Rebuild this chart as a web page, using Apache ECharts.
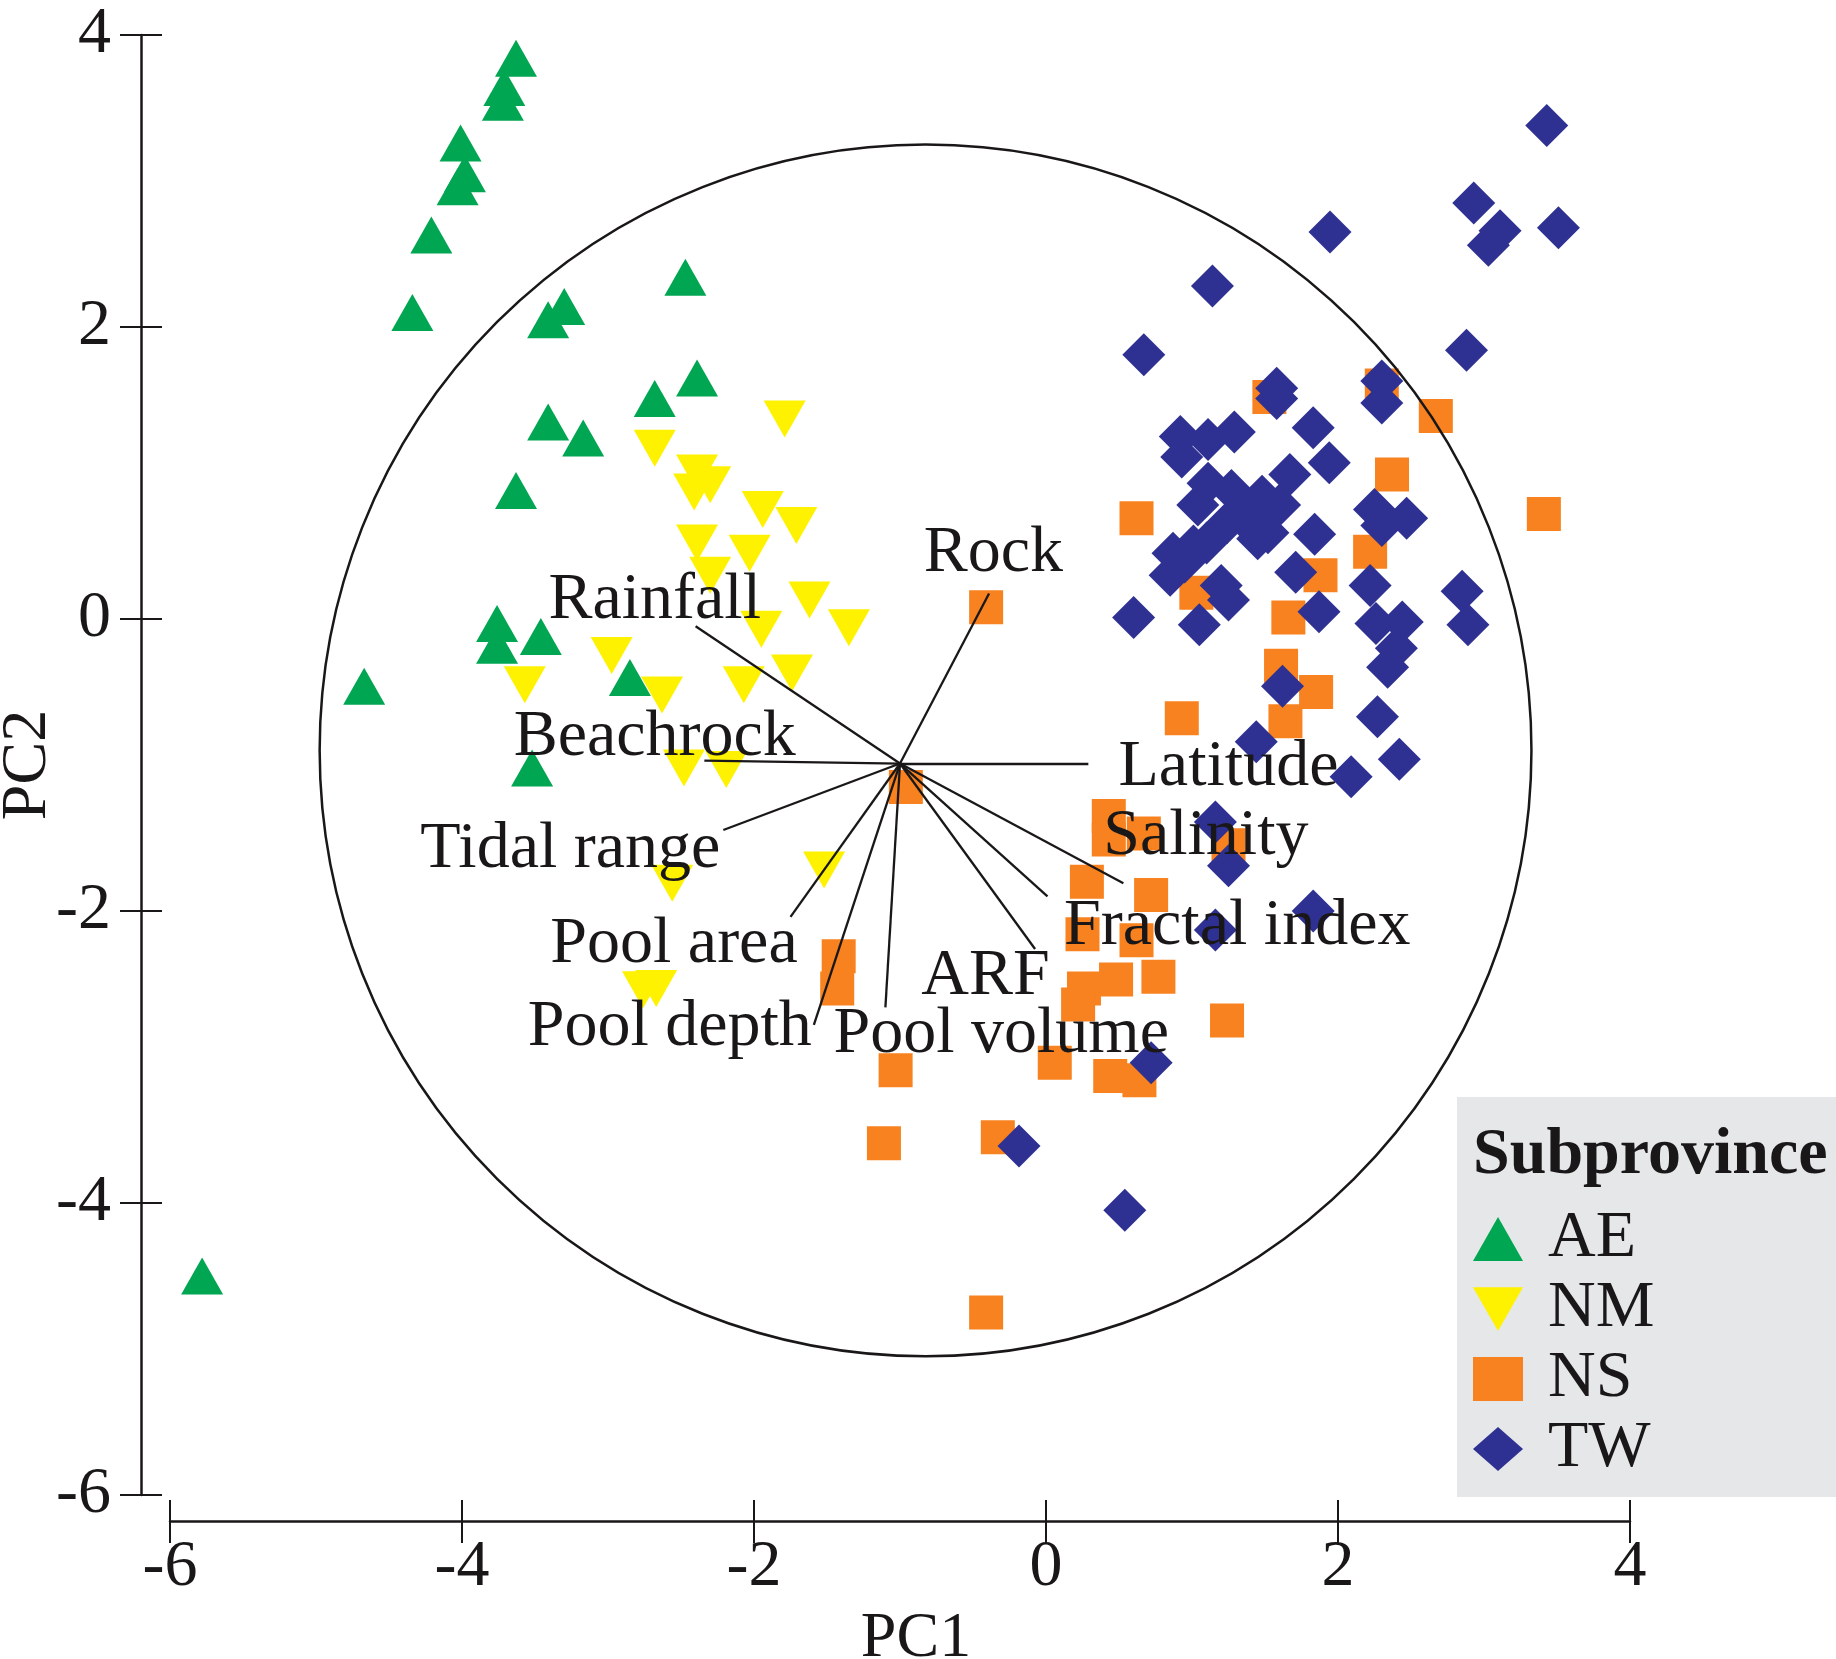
<!DOCTYPE html>
<html>
<head>
<meta charset="utf-8">
<script src="https://cdn.jsdelivr.net/npm/echarts@6/dist/echarts.min.js"></script>
<style>
html,body{margin:0;padding:0;background:#fff;}
#chart{width:1836px;height:1659px;}
</style>
</head>
<body>
<div id="chart"></div>
<script>
// ---- data (PC1, PC2) ----
const groups = ['AE', 'NM', 'NS', 'TW'];

const AE = [
  [-3.63, 3.84], [-3.71, 3.64], [-3.72, 3.54], [-4.01, 3.26], [-3.98, 3.05], [-4.03, 2.96],
  [-4.21, 2.63], [-4.34, 2.10], [-3.41, 2.05], [-3.30, 2.14], [-2.47, 2.34], [-2.39, 1.65],
  [-2.68, 1.51], [-3.41, 1.35], [-3.17, 1.24], [-3.63, 0.88], [-3.76, -0.03], [-3.76, -0.18],
  [-3.46, -0.12], [-2.85, -0.40], [-4.67, -0.46], [-3.52, -1.02], [-5.78, -4.50]
];

const NM = [
  [-1.79, 1.37], [-2.68, 1.17], [-2.39, 1.00], [-2.30, 0.92], [-2.41, 0.87], [-1.94, 0.75],
  [-1.71, 0.64], [-2.39, 0.52], [-2.03, 0.45], [-2.30, 0.30], [-1.62, 0.13], [-1.95, -0.07],
  [-1.35, -0.06], [-2.975, -0.25], [-3.57, -0.45], [-2.63, -0.52], [-1.74, -0.37], [-2.07, -0.45],
  [-2.48, -1.02], [-2.19, -1.03], [-1.52, -1.72], [-2.56, -1.81], [-2.76, -2.54], [-2.67, -2.53]
];

const NS = [
  [-0.41, 0.08], [0.62, 0.69], [1.53, 1.52], [2.30, 1.60], [2.67, 1.39], [3.41, 0.72],
  [2.37, 0.99], [2.22, 0.46], [1.88, 0.30], [1.03, 0.18], [1.66, 0.01], [1.61, -0.32],
  [1.85, -0.50], [1.64, -0.70], [0.93, -0.68], [-0.96, -1.15], [0.43, -1.35], [0.43, -1.51],
  [0.67, -1.47], [1.25, -1.55], [0.28, -1.80], [0.72, -1.89], [0.25, -2.16], [0.62, -2.20],
  [-1.42, -2.31], [-1.43, -2.53], [0.77, -2.45], [0.48, -2.47], [0.26, -2.53], [0.22, -2.64],
  [1.24, -2.75], [0.06, -3.04], [-1.03, -3.09], [0.44, -3.13], [0.64, -3.16], [-1.11, -3.59],
  [-0.33, -3.55], [-0.41, -4.75]
];

const TW = [
  [3.43, 3.38], [2.93, 2.85], [3.11, 2.66], [3.03, 2.56], [3.51, 2.68], [1.945, 2.65],
  [1.14, 2.28], [0.67, 1.81], [2.88, 1.84], [1.58, 1.58], [1.58, 1.51], [2.30, 1.63],
  [2.30, 1.48], [0.92, 1.25], [0.93, 1.11], [1.11, 1.23], [1.29, 1.28], [1.83, 1.31],
  [1.94, 1.07], [1.67, 0.99], [1.11, 0.93], [1.27, 0.88], [1.48, 0.84], [1.04, 0.78],
  [1.60, 0.78], [1.24, 0.66], [1.35, 0.69], [1.52, 0.59], [1.45, 0.55], [1.10, 0.52],
  [2.25, 0.75], [2.47, 0.69], [2.30, 0.64], [1.84, 0.58], [1.01, 0.50], [0.87, 0.45],
  [0.95, 0.39], [0.85, 0.30], [1.71, 0.32], [1.20, 0.23], [1.25, 0.13], [2.22, 0.23],
  [2.85, 0.19], [0.60, 0.01], [1.05, -0.04], [1.87, 0.05], [2.26, -0.03], [2.44, -0.02],
  [2.40, -0.20], [2.34, -0.33], [2.89, -0.04], [1.62, -0.46], [2.27, -0.67], [1.44, -0.84],
  [2.09, -1.08], [2.42, -0.96], [1.16, -1.39], [1.25, -1.69], [1.16, -2.13], [1.83, -2.00],
  [0.72, -3.04], [-0.185, -3.61], [0.54, -4.05]
];

// loading vectors
const vectorOrigin = [-1.0, -0.99];
const vectorNames = ['Rock', 'Rainfall', 'Beachrock', 'Latitude', 'Tidal range', 'Salinity',
  'Fractal index', 'ARF', 'Pool volume', 'Pool depth', 'Pool area'];
const vectorEnds = [
  [-0.39, 0.175], [-2.40, -0.05], [-2.34, -0.97], [0.29, -0.99], [-2.21, -1.445], [0.53, -1.81],
  [0.01, -1.90], [-0.075, -2.26], [-1.10, -2.66], [-1.59, -2.78], [-1.75, -2.04]
];
const vectorLabelAt = [
  [-0.36, 0.445], [-2.68, 0.125], [-2.68, -0.81], [1.25, -1.02], [-3.258, -1.58], [1.095, -1.49],
  [1.31, -2.11], [-0.415, -2.448], [-0.307, -2.848], [-2.577, -2.80], [-2.548, -2.23]
];

// correlation circle [centerX, centerY, radius]
const circle = [-0.825, -0.9, 4.15];

const xTicks = [-6, 4, 2];   // min, max, interval
const yTicks = [-6, 4, 2];

// ---- styles ----
const FONT = '"Liberation Serif", "Times New Roman", serif';
const INK = '#1a1718';
const colors = { AE: '#00a651', NM: '#fff200', NS: '#f7821f', TW: '#2e3192' };

const chart = echarts.init(document.getElementById('chart'), null, { renderer: 'canvas' });

function scatter(name, data, symbol, size, rotate) {
  return {
    name, type: 'scatter', data, symbol, symbolSize: size, symbolRotate: rotate || 0,
    itemStyle: { color: colors[name], opacity: 1 },
    emphasis: { disabled: true }, z: 2
  };
}

const axisCommon = {
  type: 'value', splitLine: { show: false }
};

const option = {
  animation: false,
  backgroundColor: '#fff',
  grid: { left: 170, right: 206, top: 35, bottom: 164, containLabel: false, outerBoundsMode: 'none' },
  title: {
    text: 'Subprovince', left: 1473, top: 1123, padding: 0,
    textStyle: { fontFamily: FONT, fontSize: 66, fontWeight: 'bold', color: INK, lineHeight: 66 }
  },
  legend: {
    data: [
      { name: 'AE' },
      { name: 'NM', icon: 'path://M0,0 L2,0 L1,1.75 Z' },
      { name: 'NS' },
      { name: 'TW' }
    ],
    orient: 'vertical', left: 1457, top: 1097,
    padding: [104, 400, 10, 16], itemGap: -6, itemWidth: 50, itemHeight: 44,
    backgroundColor: '#e6e7e8',
    textStyle: { fontFamily: FONT, fontSize: 66, color: INK, lineHeight: 66, padding: [10, 0, 0, 20] },
    selectedMode: false
  },
  xAxis: [
    Object.assign({}, axisCommon, {
      min: xTicks[0], max: xTicks[1], interval: xTicks[2], position: 'bottom', offset: 26,
      name: 'PC1', nameLocation: 'middle', nameGap: 78,
      nameTextStyle: { fontFamily: FONT, fontSize: 64, color: INK, padding: [0, 0, 0, 32], lineHeight: 66 },
      axisLine: { show: true, onZero: false, lineStyle: { color: INK, width: 2.5 } },
      axisTick: { show: true, inside: false, length: 22, lineStyle: { color: INK, width: 2 } },
      axisLabel: { fontFamily: FONT, fontSize: 66, color: INK, margin: 14, lineHeight: 66 }
    }),
    Object.assign({}, axisCommon, {
      min: xTicks[0], max: xTicks[1], interval: xTicks[2], position: 'bottom', offset: 26,
      axisLine: { show: false, onZero: false },
      axisTick: { show: true, inside: true, length: 21, lineStyle: { color: INK, width: 2 } },
      axisLabel: { show: false }
    })
  ],
  yAxis: [
    Object.assign({}, axisCommon, {
      min: yTicks[0], max: yTicks[1], interval: yTicks[2], position: 'left', offset: 29,
      name: 'PC2', nameLocation: 'middle', nameGap: 80, nameRotate: 90, nameMoveOverlap: false,
      nameTextStyle: { fontFamily: FONT, fontSize: 64, color: INK, lineHeight: 66 },
      axisLine: { show: true, onZero: false, lineStyle: { color: INK, width: 2.5 } },
      axisTick: { show: true, inside: false, length: 21, lineStyle: { color: INK, width: 2 } },
      axisLabel: { fontFamily: FONT, fontSize: 66, color: INK, margin: 30 }
    }),
    Object.assign({}, axisCommon, {
      min: yTicks[0], max: yTicks[1], interval: yTicks[2], position: 'left', offset: 29,
      axisLine: { show: false, onZero: false },
      axisTick: { show: true, inside: true, length: 21, lineStyle: { color: INK, width: 2 } },
      axisLabel: { show: false }
    })
  ],
  series: [
    scatter('AE', AE, 'triangle', [42, 37]),
    scatter('NM', NM, 'triangle', [42, 37], 180),
    scatter('NS', NS, 'rect', [34, 34]),
    scatter('TW', TW, 'diamond', [43, 43]),
    {
      type: 'custom', name: 'circle', data: [circle], z: 3, silent: true,
      renderItem: function (params, api) {
        const c = api.coord([api.value(0), api.value(1)]);
        const r = api.size([api.value(2), 0])[0];
        return { type: 'circle', shape: { cx: c[0], cy: c[1], r: r },
          style: { fill: 'none', stroke: INK, lineWidth: 2.5 } };
      }
    },
    {
      type: 'lines', coordinateSystem: 'cartesian2d', z: 4, silent: true,
      data: vectorEnds.map(function (e) { return { coords: [vectorOrigin, e] }; }),
      lineStyle: { color: INK, width: 2.3, opacity: 1 }
    },
    {
      type: 'scatter', name: 'labels', z: 5, silent: true, symbolSize: 0.01,
      itemStyle: { color: 'rgba(0,0,0,0)' },
      data: vectorLabelAt.map(function (p, i) { return { value: p, name: vectorNames[i] }; }),
      label: {
        show: true, position: 'inside', formatter: '{b}', align: 'center', verticalAlign: 'middle',
        fontFamily: FONT, fontSize: 66, color: INK, textBorderWidth: 0, textBorderColor: 'transparent',
        opacity: 1
      }
    }
  ]
};

chart.setOption(option);
</script>
</body>
</html>
